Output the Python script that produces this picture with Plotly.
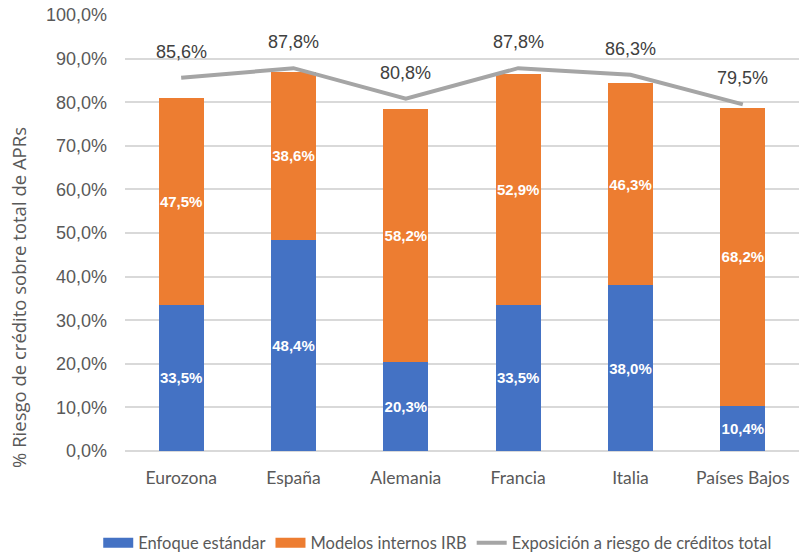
import plotly.graph_objects as go

categorias = ["Eurozona", "España", "Alemania", "Francia", "Italia", "Países Bajos"]
enfoque_estandar = [33.5, 48.4, 20.3, 33.5, 38.0, 10.4]
modelos_irb = [47.5, 38.6, 58.2, 52.9, 46.3, 68.2]
exposicion_total = [85.6, 87.8, 80.8, 87.8, 86.3, 79.5]
y_ticks = [0, 10, 20, 30, 40, 50, 60, 70, 80, 90, 100]

AZUL = "#4472c4"
NARANJA = "#ed7d31"
GRIS = "#a5a5a5"
TEXTO = "#595959"


def pct(v):
    return f"{v:.1f}%".replace(".", ",")


fig = go.Figure()

etiqueta_barra = dict(color="white", size=15, family="Liberation Sans", weight="bold")

fig.add_bar(
    x=categorias, y=enfoque_estandar, name="Enfoque estándar",
    marker=dict(color=AZUL, line=dict(width=0)),
    text=[pct(v) for v in enfoque_estandar], textposition="inside",
    insidetextanchor="middle", textangle=0, textfont=etiqueta_barra,
    showlegend=False, hoverinfo="skip",
)
fig.add_bar(
    x=categorias, y=modelos_irb, name="Modelos internos IRB",
    marker=dict(color=NARANJA, line=dict(width=0)),
    text=[pct(v) for v in modelos_irb], textposition="inside",
    insidetextanchor="middle", textangle=0, textfont=etiqueta_barra,
    showlegend=False, hoverinfo="skip",
)
fig.add_scatter(
    x=categorias, y=exposicion_total, mode="lines",
    name="Exposición a riesgo de créditos total",
    line=dict(color=GRIS, width=4),
    showlegend=False, hoverinfo="skip",
)

# Value labels above the total-exposure line
for cat, v in zip(categorias, exposicion_total):
    fig.add_annotation(
        x=cat, y=v, xref="x", yref="y", text=pct(v), showarrow=False,
        yanchor="middle", yshift=26,
        font=dict(color="#404040", size=18, family="Liberation Sans"),
    )

# Legend entries drawn as wide swatches
for nombre, color, ancho in [("Enfoque estándar", AZUL, 10),
                             ("Modelos internos IRB", NARANJA, 10),
                             ("Exposición a riesgo de créditos total", GRIS, 4)]:
    fig.add_scatter(
        x=[None], y=[None], mode="lines", name=nombre,
        line=dict(color=color, width=ancho), showlegend=True,
    )

# Rotated y-axis title
fig.add_annotation(
    text="% Riesgo de crédito sobre total de APRs", textangle=-90,
    xref="paper", yref="paper", x=-0.159, y=0.353,
    xanchor="center", yanchor="middle", showarrow=False,
    font=dict(family="Open Sans", size=18.5, color=TEXTO),
)

fig.update_layout(
    barmode="stack",
    bargap=0.6,
    width=799, height=554,
    margin=dict(l=125, r=0, t=15, b=103, autoexpand=False),
    plot_bgcolor="white", paper_bgcolor="white",
    font=dict(family="Liberation Sans", color=TEXTO, size=17),
    uniformtext=dict(minsize=15, mode="show"),
    legend=dict(
        orientation="h", x=0.464, xanchor="center", y=-0.211, yanchor="middle",
        font=dict(family="Lato", size=16.5, color=TEXTO),
        traceorder="normal", itemwidth=30,
    ),
    showlegend=True,
)
fig.update_xaxes(
    showgrid=False, showline=False, ticks="", ticklabelstandoff=14,
    tickfont=dict(family="Lato", size=17.5, color=TEXTO),
)
fig.update_yaxes(
    range=[0, 100], tickvals=y_ticks, ticktext=[pct(v) for v in y_ticks],
    showgrid=True, gridcolor="#d9d9d9", gridwidth=1.5,
    zeroline=True, zerolinecolor="#d9d9d9", zerolinewidth=1.5,
    showline=False, ticks="", ticklabelstandoff=17,
    tickfont=dict(family="Liberation Sans", size=18, color=TEXTO),
)

fig.write_html("out.html")
